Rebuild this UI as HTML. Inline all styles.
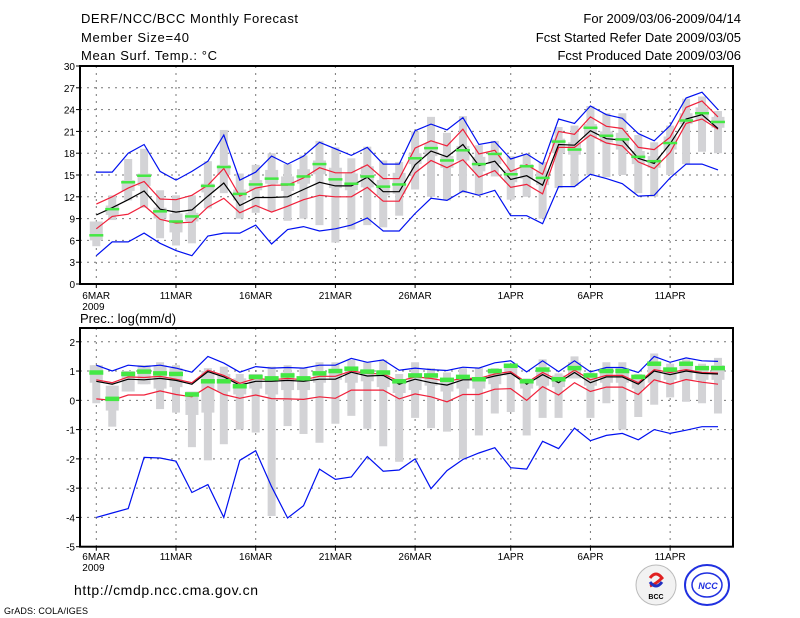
<!DOCTYPE html>
<html><head><meta charset="utf-8"><style>
html,body{margin:0;padding:0;background:#fff;width:800px;height:618px;overflow:hidden}
svg{display:block}
text{font-family:"Liberation Sans",sans-serif;fill:#000}
</style></head><body>
<svg id="chart" width="800" height="618" viewBox="0 0 800 618">
<g>
<text x="81" y="23" font-size="13" textLength="217">DERF/NCC/BCC Monthly Forecast</text>
<text x="81" y="42" font-size="13" textLength="108">Member Size=40</text>
<text x="81" y="60" font-size="13" textLength="136">Mean Surf. Temp.: °C</text>
<text x="741" y="23" font-size="13" text-anchor="end">For 2009/03/06-2009/04/14</text>
<text x="741" y="42" font-size="13" text-anchor="end">Fcst Started Refer Date 2009/03/05</text>
<text x="741" y="60" font-size="13" text-anchor="end">Fcst Produced Date 2009/03/06</text>
</g>
<text x="80" y="323" font-size="13">Prec.: log(mm/d)</text>
<text x="74" y="595" font-size="14" textLength="184">http://cmdp.ncc.cma.gov.cn</text>
<text x="4" y="614" font-size="9" textLength="84">GrADS: COLA/IGES</text>
<g>
<circle cx="656" cy="585" r="20" fill="#f2f2f2" stroke="#bbb"/>
<path d="M650 578 q6 -8 12 0 q-6 6 -12 8" fill="none" stroke="#e02020" stroke-width="3"/>
<path d="M662 582 q-6 8 -12 0" fill="none" stroke="#2030c0" stroke-width="3"/>
<text x="656" y="599" font-size="7" text-anchor="middle" font-weight="bold">BCC</text>
</g>
<g>
<ellipse cx="707" cy="585" rx="22" ry="20" fill="#fff" stroke="#2030e0" stroke-width="2"/>
<ellipse cx="707" cy="585" rx="15" ry="12" fill="none" stroke="#2030e0" stroke-width="1.5"/>
<text x="708" y="589" font-size="9" text-anchor="middle" font-style="italic" font-weight="bold" fill="#2030e0" style="fill:#2030e0">NCC</text>
</g>
<g id="top"></g>
<g id="bot"></g>
</svg>
<script>
const dayLabels = ["6MAR","11MAR","16MAR","21MAR","26MAR","1APR","6APR","11APR"];
const dayLabelIdx = [0,5,10,15,20,26,31,36];
const tempTicks = [0,3,6,9,12,15,18,21,24,27,30];
const precTicks = [-5,-4,-3,-2,-1,0,1,2];
const tMax = [15.4,15.4,18,19.2,15.5,14.3,15.5,16.9,20.5,14.3,15.4,17.6,16.5,17.6,19.5,18.6,17.7,18.8,16.5,16.5,21.1,22,21.2,22.9,19.2,19.6,17.2,17.9,16.5,22.7,22.1,24.5,23.3,22.8,20.7,19.7,21.8,25.6,26.4,24];
const tMin = [3.9,5.8,5.8,7,5.6,4.6,3.9,6.6,7,7,8.1,5.5,7.5,7.9,7.3,7.6,8.1,9.1,7.3,7.3,9.7,11.8,11.5,12.8,12.2,12.9,9.4,9.4,8.3,13.4,13.4,15.1,14.5,13.8,12.1,12.2,14.6,16.5,16.5,15.7];
const tSdHi = [11,12,13.2,14.1,11.7,11.6,12.2,13.6,15.9,12.1,13.2,13.6,13.6,14.6,16,15.3,15.3,16.4,14.5,14.5,18.7,19.7,19,21.3,17.9,18.4,15.5,16.4,15.1,21,20.6,23,21.7,21.4,18.8,18.5,20.2,24.3,25.2,23];
const tSdLo = [7.6,9.3,9.6,10.8,8.9,8.4,8.5,10.6,11.8,9.8,10.8,9.9,10.7,11.6,12.2,12,12,13.3,11.4,11.4,15.3,17,16,17.1,14.7,15.6,13.3,13.7,12.4,18.8,18.8,20.5,19.4,19,16.8,15.9,18.1,22.1,22.7,21.3];
const tMean = [9.5,10.5,11.6,12.8,10.3,9.9,10.2,12.1,13.9,10.8,11.9,11.9,12,13,14,13.5,13.5,14.7,12.7,12.7,16.4,18.3,17.5,19.2,16.3,16.9,14.4,14.9,13.6,19.2,19.1,21.1,20,19.8,17.3,16.6,19.3,22.7,23.3,21.4];
const tMed = [6.7,10.3,14,14.9,10,8.6,9.3,13.5,16.1,12.4,13.7,14.5,13.7,14.8,16.5,14.4,13.8,14.8,13.4,13.7,17.3,18.7,17,18.4,16.5,17.9,15.1,16.2,14.6,19.6,18.5,21.5,20.4,19.9,17.5,16.9,19.4,22.5,23.5,22.3];
const tBarLo = [5.2,8.8,11.5,10.5,6.3,5.3,5.6,10.4,12.5,9,9.8,10,8.7,9,8.1,5.7,7.5,8.1,7.8,9.4,13,12,11.5,12.5,12.2,14.8,11.6,12,9,13.2,13.5,15,14.7,15,12.5,12,15,16.5,18.2,18];
const tBarHi = [8.6,12.2,17.2,18.6,12.9,12.2,12.2,16.9,21.2,15.2,16.4,18,16.5,17.7,19.7,18.8,17.3,18.9,17,16.8,21,23,20.8,23.1,19.1,19.7,17.6,17.9,16.8,21.6,21.8,24.5,23.5,23.5,20.5,19.5,21.8,25.5,25.8,23.8];
const tBoxLo = [6,9.5,12.8,13.5,9,7.1,8.6,12.6,15,11.5,12.9,13.8,12.8,13.8,15.1,13.2,12.9,13.3,12.2,12.4,16.5,17.6,16,17,15.5,16.5,14,14.5,13.6,18,17.8,20,19.5,18.5,16.5,16,18.5,22,22.5,21.5];
const tBoxHi = [8.6,10.8,14.3,15.2,10.5,9.7,9.8,13.8,16.4,13,14.3,15.7,14.8,15.8,17,16,15.2,16.2,14.3,15.3,18,19.4,17.6,19,17.5,18,15.7,16.5,15.5,20,19.5,22,21,20.8,18.3,17.6,20.3,23.5,24.3,23];
const pMax = [1.2,1.0,1.2,1.15,1.2,1.1,0.96,1.5,1.27,0.96,1.15,1.1,1.12,1.1,1.2,1.2,1.43,1.3,1.38,1.03,1.1,1.05,1.02,1.13,1.1,1.28,1.35,0.97,1.35,0.98,1.35,0.97,1.12,1.12,0.95,1.5,1.3,1.45,1.35,1.33];
const pMin = [-4,-3.85,-3.7,-1.95,-1.97,-2.08,-3.15,-2.88,-4,-2.05,-1.72,-2.95,-4.02,-3.6,-2.35,-2.7,-2.62,-1.92,-2.42,-2.38,-2,-3.02,-2.4,-2.02,-1.8,-1.62,-2.3,-2.35,-1.4,-1.65,-0.95,-1.38,-1.2,-1.13,-1.35,-1,-1.13,-1.02,-0.9,-0.9];
const pSdHi = [0.7,0.6,0.8,0.78,0.82,0.72,0.6,1.03,0.85,0.58,0.75,0.7,0.75,0.7,0.82,0.82,1,0.92,0.9,0.65,0.8,0.75,0.65,0.75,0.75,0.9,0.98,0.6,0.95,0.68,1.03,0.7,0.85,0.85,0.6,1.05,0.95,1.05,0.95,0.93];
const pSdLo = [0.05,0,0.18,0.18,0.32,0.2,0.12,0.47,0.2,0.07,0.18,0.06,0.05,0.03,0.12,0.07,0.35,0.35,0.35,0.05,0.22,0.12,-0.05,0.2,0.2,0.38,0.4,0,0.47,0.18,0.6,0.3,0.45,0.45,0.2,0.7,0.55,0.71,0.62,0.55];
const pMean = [0.65,0.55,0.72,0.7,0.75,0.68,0.55,0.98,0.8,0.52,0.65,0.65,0.68,0.65,0.72,0.72,0.96,0.83,0.85,0.55,0.72,0.6,0.52,0.7,0.7,0.83,0.93,0.55,0.88,0.6,0.95,0.6,0.8,0.8,0.55,1,0.88,1,0.92,0.9];
const pMed = [0.95,0.05,0.9,0.98,0.92,0.9,0.2,0.65,0.65,0.48,0.8,0.75,0.85,0.75,0.92,1,1.08,0.98,0.95,0.65,0.85,0.85,0.7,0.8,0.72,1,1.18,0.65,1.05,0.72,1.1,0.85,1,1,0.8,1.25,1.05,1.25,1.1,1.1];
const pBarLo = [-0.1,-0.9,0.3,0.55,-0.3,-0.42,-1.6,-2.05,-1.5,-1,-1.1,-3.95,-0.88,-1.15,-1.45,-0.8,-0.53,-0.97,-1.57,-2.1,-0.6,-0.95,-1.07,-2,-1.2,-0.45,-0.4,-1.2,-0.6,-0.6,0.75,-0.6,-0.1,-1,-0.57,-0.15,0.1,-0.05,-0.1,-0.45];
const pBarHi = [1.2,0.5,1,1.2,1.3,1.2,0.3,1.1,1.15,0.9,0.9,1.15,1.2,1.1,1.3,1.3,1.38,1.3,1.38,0.9,1.3,1.1,0.95,1.1,1.1,1.1,1.2,0.75,1.4,0.92,1.5,0.95,1.3,1.3,0.9,1.6,1.25,1.4,1.25,1.45];
const pBoxLo = [0.6,-0.35,0.3,0.55,0.4,0.45,-0.5,-0.42,0.3,0.2,0.4,0.2,0.35,0.35,0.6,0.7,0.6,0.65,0.45,0.25,0.35,0.5,0.3,0.4,0.4,0.55,0.85,0.4,0.5,0.45,0.75,0.5,0.6,0.6,0.4,0.6,0.7,0.7,0.7,0.7];
const pBoxHi = [1.2,0.5,1.0,1.2,1.2,1.1,0.3,1.0,0.9,0.75,0.9,0.75,0.95,0.8,1,1.05,1.1,1,0.95,0.65,0.85,0.9,0.75,0.8,0.75,1.05,1.2,0.7,1.1,0.85,1.3,0.9,1.1,1.1,0.85,1.2,1.1,1.3,1.15,1.2];

const NS='http://www.w3.org/2000/svg';
const X0=96.3, DX=15.94, FL=80, FR=733;
function xd(i){return X0+DX*i;}
function mk(parent,tag,attrs){const e=document.createElementNS(NS,tag);for(const k in attrs)e.setAttribute(k,attrs[k]);parent.appendChild(e);return e;}

function panel(g,top,bottom,vmin,vmax,ticks,d,labelY){
  const ys=v=>bottom-(v-vmin)/(vmax-vmin)*(bottom-top);
  ticks.forEach(t=>{
    if(t===vmin||t===vmax)return;
    const l=mk(g,'line',{x1:FL,x2:FR,y1:ys(t),y2:ys(t),stroke:'#777','stroke-dasharray':'2,5','stroke-width':1});
    
    
  });
  dayLabelIdx.forEach(i=>{
    const l=mk(g,'line',{x1:xd(i),x2:xd(i),y1:top,y2:bottom,stroke:'#777','stroke-dasharray':'2,5','stroke-width':1});
    
    
  });
  for(let i=0;i<40;i++){
    const x=xd(i);
    const b=mk(g,'rect',{x:x-4,y:ys(d.bh[i]),width:8,height:Math.max(1,ys(d.bl[i])-ys(d.bh[i])),fill:'#d3d3d6'});
    
    
    const q=mk(g,'rect',{x:x-6.5,y:ys(d.qh[i]),width:13,height:Math.max(1,ys(d.ql[i])-ys(d.qh[i])),fill:'#d3d3d6'});
    
    
  }
  const line=(arr,col,w,name)=>{
    const p=mk(g,'polyline',{points:arr.map((v,i)=>xd(i).toFixed(1)+','+ys(v).toFixed(1)).join(' '),fill:'none',stroke:col,'stroke-width':w});
    
    
  };
  line(d.sl,'#f0203a',1.2,'minus-std-line');
  line(d.sh,'#f0203a',1.2,'plus-std-line');
  line(d.mean,'#000',1.2,'ensemble-mean-line');
  line(d.max,'#0010f0',1.2,'max-line');
  line(d.min,'#0010f0',1.2,'min-line');
  for(let i=0;i<40;i++){
    const m=mk(g,'rect',{x:xd(i)-7,y:ys(d.med[i])-d.mh/2,width:14,height:d.mh,fill:'#44e844'});
    
    
  }
  const f=mk(g,'rect',{x:FL,y:top,width:FR-FL,height:bottom-top,fill:'none',stroke:'#000','stroke-width':2});
  
  
  ticks.forEach(t=>{
    const tk=mk(g,'line',{x1:FL-4,x2:FL,y1:ys(t),y2:ys(t),stroke:'#000'});
    
    
    const tx=mk(g,'text',{x:FL-5,y:ys(t)+4,'font-size':10,'text-anchor':'end'});
    tx.textContent=String(t);
    
    
  });
  dayLabelIdx.forEach((i,k)=>{
    const tk=mk(g,'line',{x1:xd(i),x2:xd(i),y1:bottom,y2:bottom+4,stroke:'#000'});
    
    
    const tx=mk(g,'text',{x:xd(i)-(k===0?14:0),y:labelY,'font-size':10,'text-anchor':k===0?'start':'middle'});
    tx.textContent=dayLabels[k];
    
    
  });
  const yr=mk(g,'text',{x:xd(0)-14,y:labelY+11,'font-size':10});
  yr.textContent='2009';
  
  
}
panel(document.getElementById('top'),66,284,0,30,tempTicks,
 {max:tMax,min:tMin,sh:tSdHi,sl:tSdLo,mean:tMean,med:tMed,bl:tBarLo,bh:tBarHi,ql:tBoxLo,qh:tBoxHi,mh:2.5},299);
panel(document.getElementById('bot'),328,546.7,-5,2.47,precTicks,
 {max:pMax,min:pMin,sh:pSdHi,sl:pSdLo,mean:pMean,med:pMed,bl:pBarLo,bh:pBarHi,ql:pBoxLo,qh:pBoxHi,mh:4.5},560);
</script>
</body></html>
